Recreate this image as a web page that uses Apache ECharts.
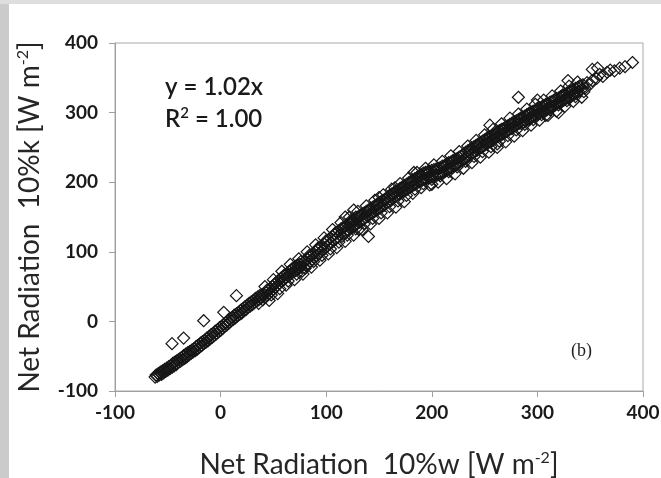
<!DOCTYPE html>
<html>
<head>
<meta charset="utf-8">
<script src="https://cdn.jsdelivr.net/npm/echarts@6/dist/echarts.min.js"></script>
<style>
html,body{margin:0;padding:0;background:#ffffff;}
#chart{width:661px;height:478px;}
</style>
</head>
<body>
<div id="chart"></div>
<script>
// Tick labels / axis ranges
const xTicks = [-100, 0, 100, 200, 300, 400];
const yTicks = [-100, 0, 100, 200, 300, 400];
const xTitle = 'Net Radiation  10%w [W m{sup|-2}]';
const yTitle = 'Net Radiation  10%k [W m{sup|-2}]';
const eqLine1 = 'y = 1.02x';
const eqLine2 = 'R{sup|2} = 1.00';
const panelLabel = '(b)';

// Net radiation 10%w (x) and 10%k (y)
const xValues = [
-62,-61,-60,-59,-58,-57,-56,-55,-54,-53,-52,-51,-50,-49,-48,-47,-46,-45,-44,-43,-42,-41,-40,-39,-38,-37,-36,-35,-34,-33,-32,-31,-30,-29,-28,-27,-46,-35,
-26,-25,-24,-23,-22,-21,-20,-19,-18,-17,-16,-15,-14,-13,-12,-11,-10,-9,-8,-7,-6,-5,-4,-3,-2,-1,0,1,2,3,-16,3,15,
4,5,6,7,8,9,10,11,12,13,14,15,16,17,18,19,20,21,22,23,24,25,26,27,28,29,30,31,32,33,34,35,36,37,38,39,36,
40,41,42,43,44,45,46,47,48,49,50,51,52,53,54,55,56,57,58,59,60,61,62,63,64,65,66,67,68,69,70,71,72,73,74,75,76,
77,78,79,80,81,82,83,84,85,86,87,88,89,90,91,92,93,94,95,96,97,98,99,100,101,102,103,104,105,106,107,108,109,110,111,112,113,114,118,124,128,140,
115,116,117,118,119,120,121,122,123,124,125,126,127,128,129,130,131,132,133,134,135,136,137,138,139,140,141,142,143,144,145,146,147,148,149,150,151,152,153,154,155,156,157,158,159,160,161,162,163,164,165,166,167,168,169,170,171,150,165,
172,173,174,175,176,177,178,179,180,181,182,183,184,185,186,187,188,189,190,191,192,193,194,195,196,197,198,199,200,201,202,203,204,205,206,207,208,209,210,211,212,213,214,215,216,217,218,219,220,221,222,223,224,225,226,227,183,200,
228,229,230,231,232,233,234,235,236,237,238,239,240,241,242,243,244,245,246,247,248,249,250,251,252,253,254,255,256,257,258,259,260,261,262,263,264,265,266,267,268,269,270,271,272,273,274,275,276,277,278,279,280,281,282,283,284,282,
285,286,287,288,289,290,291,292,293,294,295,296,297,298,299,300,301,302,303,304,305,306,307,308,309,310,311,312,313,314,315,316,317,318,319,320,321,322,323,324,325,326,327,328,329,330,331,332,333,334,335,336,337,338,339,340,341,320,
343,345,347,350,352,356,359,362,366,369,373,378,383,390,
42,46,50,54,58,62,66,70,74,78,82,86,90,94,98,102,106,110,114,118,122,126,130,134,138,142,146,150,154,158,162,166,170,174,178,182,186,190,194,198,
202,206,210,214,218,222,226,230,234,238,242,246,250,254,258,262,266,270,274,278,282,286,290,294,298,302,306,310,314,318,322,326,330,334,338,342,
44,48,52,56,60,64,68,72,76,80,84,88,92,96,100,104,108,112,116,120,124,128,132,136,140,144,148,152,156,160,164,168,172,176,180,184,188,192,196,200,
204,208,212,216,220,224,228,232,236,240,244,248,252,256,260,264,268,272,276,280,284,288,292,296,300,304,308,312,316,320,324,328,332,336,340,344,
126,131,255,262,300,308,329,352,357
];
const yValues = [
-80,-77,-79,-75,-77,-73,-76,-71,-74,-69,-72,-67,-70,-65,-68,-63,-66,-60,-64,-58,-62,-56,-59,-54,-57,-52,-55,-49,-53,-47,-51,-45,-48,-43,-46,-41,-32,-24,
-44,-39,-42,-36,-40,-34,-37,-31,-35,-29,-32,-27,-30,-24,-28,-22,-25,-19,-23,-17,-20,-14,-18,-12,-15,-9,-13,-7,-10,-4,1,13,37,
-7,-2,-5,1,-2,4,1,6,3,9,5,11,8,13,10,16,12,18,15,21,17,23,20,26,22,28,24,30,27,33,29,35,31,37,33,38,26,
31,38,35,41,37,44,40,47,43,50,46,53,49,56,52,59,55,62,58,64,60,67,63,69,65,72,68,74,70,77,72,79,74,81,76,82,78,
72,84,78,87,80,90,83,92,86,95,89,97,92,100,94,103,97,106,100,108,103,111,105,114,108,117,111,120,113,122,116,125,118,128,121,130,124,133,150,146,150,122,
122,134,126,136,128,139,131,141,133,143,135,145,137,147,140,150,142,152,144,154,146,156,149,158,151,160,153,162,155,164,157,166,159,168,161,170,163,172,165,174,167,176,170,178,172,181,174,183,176,185,179,187,181,189,183,191,185,178,192,
193,186,195,188,197,190,199,192,201,194,203,196,205,198,207,200,209,201,211,203,213,204,214,205,215,206,216,207,217,208,218,209,219,210,220,211,221,213,223,214,224,216,226,218,228,220,229,221,231,223,233,225,234,227,236,229,214,197,
238,231,240,233,243,235,245,237,247,240,249,242,251,244,253,246,255,248,257,250,259,252,261,254,263,256,265,258,266,260,268,262,270,264,272,266,274,268,276,269,277,271,279,273,281,275,283,277,285,279,287,281,288,283,290,285,291,322,
284,293,286,295,288,297,290,298,291,300,293,302,295,303,296,305,298,307,300,308,301,310,303,311,304,313,306,315,308,316,309,318,311,320,313,321,314,323,316,325,318,326,320,328,321,330,323,331,325,333,326,335,328,336,330,338,332,300,
340,335,343,341,346,349,355,352,358,361,360,364,366,372,
50,30,60,40,72,52,82,60,90,68,100,78,110,88,120,97,132,106,142,115,150,124,158,132,166,140,174,148,182,156,190,164,198,172,206,184,214,192,220,196,
225,200,230,205,238,212,244,220,252,228,260,236,268,243,276,250,284,258,292,266,298,274,305,282,312,289,318,296,324,302,331,309,338,316,344,322,
45,38,55,47,66,58,76,68,86,76,95,86,105,95,116,104,126,114,135,124,141,133,150,140,158,148,166,156,174,165,182,173,190,181,198,190,206,198,212,204,
216,209,222,215,230,222,237,230,244,237,252,244,259,251,267,259,275,267,283,275,292,283,299,290,306,297,312,304,318,311,325,317,331,323,338,330,
160,132,282,255,318,296,346,362,364
];

const points = xValues.map((x, i) => [x, yValues[i]]);

const chart = echarts.init(document.getElementById('chart'), null, {renderer: 'canvas'});
const FONT = 'Lato, "Open Sans", sans-serif';

chart.setOption({
  backgroundColor: '#ffffff',
  animation: false,
  grid: {left: 115, right: 18, top: 43, bottom: 87, show: true, borderColor: '#a9a9a9', borderWidth: 1, backgroundColor: 'transparent', containLabel: false, outerBoundsMode: 'none'},
  xAxis: {
    type: 'value', min: xTicks[0], max: xTicks[xTicks.length - 1], interval: 100,
    axisLine: {show: true, onZero: false, lineStyle: {color: '#a0a0a0', width: 1}},
    axisTick: {show: true, inside: false, length: 6, lineStyle: {color: '#a0a0a0'}},
    splitLine: {show: false},
    axisLabel: {margin: 12, color: '#1a1a1a', fontSize: 19, fontWeight: 'bold', fontFamily: FONT},
    name: xTitle, nameLocation: 'middle', nameGap: 59,
    nameTextStyle: {fontSize: 28, color: '#262626', fontFamily: FONT, lineHeight: 30, rich: {sup: {fontSize: 16, verticalAlign: 'top', lineHeight: 16, color: '#262626', fontFamily: FONT}}}
  },
  yAxis: {
    type: 'value', min: yTicks[0], max: yTicks[yTicks.length - 1], interval: 100,
    axisLine: {show: true, onZero: false, lineStyle: {color: '#a0a0a0', width: 1}},
    axisTick: {show: true, inside: false, length: 6, lineStyle: {color: '#a0a0a0'}},
    splitLine: {show: false},
    axisLabel: {margin: 17, color: '#1a1a1a', fontSize: 19, fontWeight: 'bold', fontFamily: FONT},
    name: yTitle, nameLocation: 'middle', nameGap: 70,
    nameTextStyle: {fontSize: 28, color: '#262626', fontFamily: FONT, lineHeight: 30, rich: {sup: {fontSize: 16, verticalAlign: 'top', lineHeight: 16, color: '#262626', fontFamily: FONT}}}
  },
  series: [{
    type: 'scatter',
    data: points,
    symbol: 'diamond',
    symbolSize: [12, 12],
    itemStyle: {color: 'rgba(0,0,0,0)', borderColor: '#161616', borderWidth: 1.2, opacity: 1},
    emphasis: {disabled: true},
    z: 2
  }],
  graphic: [
    {type: 'rect', left: 0, top: 0, shape: {width: 9, height: 478}, style: {fill: '#cbcbcb'}, z: -1},
    {type: 'rect', left: 0, top: 0, shape: {width: 661, height: 4}, style: {fill: '#dedede'}, z: -1},
    {type: 'text', left: 165, top: 75, style: {text: eqLine1, font: '600 24px ' + FONT, fill: '#1a1a1a'}, z: 10},
    {type: 'text', left: 165, top: 106, style: {text: eqLine2, fontFamily: FONT, fontSize: 24, fontWeight: 600, fill: '#1a1a1a', lineHeight: 27,
      rich: {sup: {fontSize: 15, fontWeight: 600, verticalAlign: 'top', lineHeight: 15, fill: '#1a1a1a', fontFamily: FONT}}}, z: 10},
    {type: 'text', left: 571, top: 342, style: {text: panelLabel, font: '18px "Liberation Serif", serif', fill: '#222222'}, z: 10}
  ]
});
</script>
</body>
</html>
